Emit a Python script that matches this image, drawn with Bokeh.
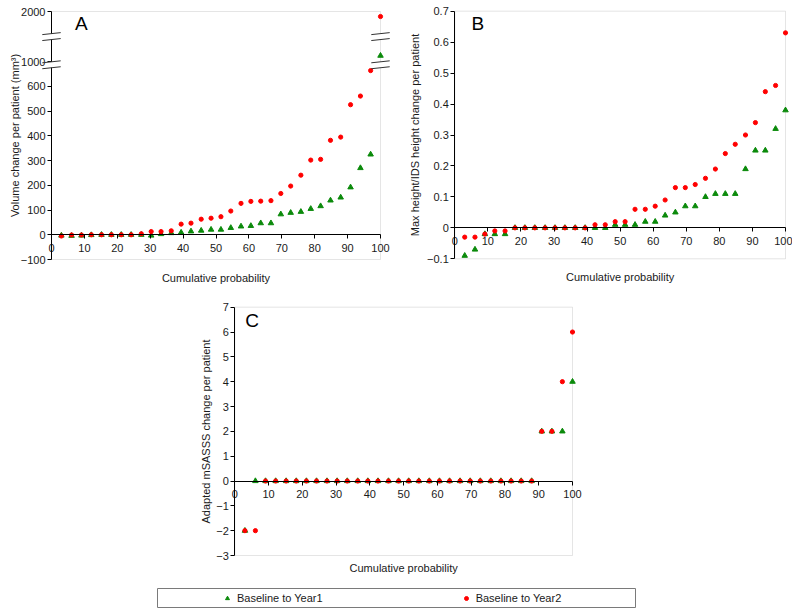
from bokeh.plotting import figure
from bokeh.models import (Range1d, FixedTicker, Label, Legend, LegendItem, Spacer,
                          BoxAnnotation, Arrow, CustomJSTickFormatter)
from bokeh.layouts import column, row
from bokeh.embed import file_html
from bokeh.resources import INLINE

# ---------------- data ----------------
PROB = [3.0, 6.1, 9.1, 12.1, 15.2, 18.2, 21.2, 24.2, 27.3, 30.3, 33.3, 36.4, 39.4,
        42.4, 45.5, 48.5, 51.5, 54.5, 57.6, 60.6, 63.6, 66.7, 69.7, 72.7, 75.8, 78.8,
        81.8, 84.8, 87.9, 90.9, 93.9, 97.0, 100.0]
SERIES = ["Baseline to Year1", "Baseline to Year2"]

VOL_Y1 = [-3, -4, -3, -1, 0, 0, 0, 0, 0, -3, 3, 7, 9, 14, 17, 21, 21, 28, 34, 36, 47,
          47, 83, 89, 93, 105, 116, 139, 151, 192, 270, 325, 1120]
VOL_Y2 = [-5, -1, -1, 0, 0, 0, 0, 0, 4, 13, 13, 16, 43, 47, 63, 67, 73, 96, 127, 135,
          136, 138, 167, 197, 241, 302, 305, 382, 395, 526, 561, 664, 1900]

HGT_Y1 = [-0.09, -0.07, -0.02, -0.02, -0.02, 0, 0, 0, 0, 0, 0, 0, 0, 0, 0, 0.01, 0.01,
          0.01, 0.02, 0.02, 0.04, 0.05, 0.07, 0.07, 0.10, 0.11, 0.11, 0.11, 0.19, 0.25,
          0.25, 0.32, 0.38]
HGT_Y2 = [-0.03, -0.03, -0.02, -0.01, -0.01, 0, 0, 0, 0, 0, 0, 0, 0, 0.01, 0.01, 0.02,
          0.02, 0.06, 0.06, 0.07, 0.09, 0.13, 0.13, 0.14, 0.16, 0.19, 0.24, 0.27, 0.30,
          0.34, 0.44, 0.46, 0.63]

MS_Y1 = [-2, 0, 0, 0, 0, 0, 0, 0, 0, 0, 0, 0, 0, 0, 0, 0, 0, 0, 0, 0, 0, 0, 0, 0, 0,
         0, 0, 0, 0, 2, 2, 2, 4]
MS_Y2 = [-2, -2, 0, 0, 0, 0, 0, 0, 0, 0, 0, 0, 0, 0, 0, 0, 0, 0, 0, 0, 0, 0, 0, 0, 0,
         0, 0, 0, 0, 2, 2, 4, 6]

X_TICKS = [0, 10, 20, 30, 40, 50, 60, 70, 80, 90, 100]
VOL_TICKS = [-100, 0, 100, 200, 300, 400, 500, 600, 1000, 2000]
VOL_BREAKS = [800, 1500]   # values where the axis is broken
HGT_TICKS = [-0.1, 0.0, 0.1, 0.2, 0.3, 0.4, 0.5, 0.6, 0.7]
MS_TICKS = [-3, -2, -1, 0, 1, 2, 3, 4, 5, 6, 7]

GREEN = "#0b8a0b"
RED = "#ff0000"
FONT = "Liberation Sans"
TXT = "#1a1a1a"
BOX = "#a8a8a8"
NAN = float("nan")
TRI_SIZE = 5.5
DOT_SIZE = 4.2


def vol_scale(v):
    """Broken axis: linear to 680, compressed 680-1000, and 1000-2000."""
    if v <= 680:
        return v
    if v <= 1000:
        return 680 + (v - 680) * (20 / 320)
    return 700 + (v - 1000) * 0.203


def fmt_label(v):
    s = ("%g" % abs(v))
    return ("\u2212" + s) if v < 0 else s


def make_panel(fig_w, fig_h, box, ylo, yhi, ypos, ylabels, ytitle, lab_standoff,
               title_gap):
    """The whole figure is the frame; axes are fixed at x=0 / y=0 and bounded."""
    L, T, R, B = box
    ux = 100.0 / (R - L)
    uy = (yhi - ylo) / (B - T)
    p = figure(frame_width=fig_w, frame_height=fig_h,
               x_range=Range1d(-L * ux, 100 + (fig_w - R) * ux),
               y_range=Range1d(ylo - (fig_h - B) * uy, yhi + T * uy),
               output_backend="svg", toolbar_location=None, min_border=0)
    p.grid.visible = False
    p.outline_line_color = None
    p.background_fill_color = "white"
    p.border_fill_color = "white"

    p.add_layout(BoxAnnotation(left=0, right=100, bottom=ylo, top=yhi, fill_alpha=0,
                               line_color=BOX, line_width=1, level="underlay"))

    xa = p.xaxis[0]
    xa.fixed_location = 0
    xa.bounds = (0, 100)
    xa.ticker = FixedTicker(ticks=X_TICKS)
    xa.major_tick_in = 0
    xa.major_tick_out = 4
    xa.minor_tick_line_color = None
    xa.axis_line_color = "black"
    xa.major_tick_line_color = "black"
    xa.major_label_standoff = 5
    xa.major_label_text_font = FONT
    xa.major_label_text_font_size = "11px"
    xa.major_label_text_color = TXT

    ya = p.yaxis[0]
    ya.fixed_location = 0
    ya.bounds = (ylo, yhi)
    ya.ticker = FixedTicker(ticks=ypos)
    ya.formatter = CustomJSTickFormatter(args=dict(pos=ypos, lab=ylabels), code="""
        let best = 0, d = Infinity;
        for (let i = 0; i < pos.length; i++) {
            const e = Math.abs(pos[i] - tick);
            if (e < d) { d = e; best = i; }
        }
        return lab[best];
    """)
    ya.major_tick_in = 0
    ya.major_tick_out = 4
    ya.minor_tick_line_color = None
    ya.axis_line_color = "black"
    ya.major_tick_line_color = "black"
    ya.major_label_standoff = 2
    ya.major_label_text_font = FONT
    ya.major_label_text_font_size = "11px"
    ya.major_label_text_color = TXT
    ya.axis_label = ytitle
    ya.axis_label_standoff = lab_standoff
    ya.axis_label_text_font = FONT
    ya.axis_label_text_font_size = "11px"
    ya.axis_label_text_font_style = "normal"
    ya.axis_label_text_color = TXT

    p.add_layout(Label(x=50, y=ylo - title_gap * uy, text="Cumulative probability",
                       text_align="center", text_baseline="middle", text_font=FONT,
                       text_font_size="11px", text_color=TXT))
    return p


def add_points(p, y1, y2):
    p.scatter(PROB, y1, marker="triangle", size=TRI_SIZE, fill_color=GREEN,
              line_color=GREEN)
    p.scatter(PROB, y2, marker="circle", size=DOT_SIZE, fill_color=RED, line_color=RED)


def add_letter(p, x, y, text):
    p.add_layout(Label(x=x, y=y, text=text, text_font=FONT, text_font_size="19px",
                       text_align="center", text_baseline="middle", text_color="black"))


# ---------------- panel A ----------------
vol_pos = [vol_scale(v) for v in VOL_TICKS]
vol_lab = [fmt_label(v) for v in VOL_TICKS]
pA = make_panel(410, 287, (51, 11, 380, 259), vol_scale(-100), vol_scale(2000),
                vol_pos, vol_lab, "Volume change per patient (mm\u00b3)", -3, 18)
add_points(pA, [vol_scale(v) for v in VOL_Y1], [vol_scale(v) for v in VOL_Y2])
add_letter(pA, 9.1, 855, "A")
for bv in VOL_BREAKS:
    tb = vol_scale(bv)
    for xc in (0, 100):
        pA.add_layout(BoxAnnotation(left=xc - 1.6, right=xc + 1.6, bottom=tb - 11,
                                    top=tb + 11, fill_color="white", fill_alpha=1,
                                    line_alpha=0))
        for off in (-12, 12):
            pA.add_layout(Arrow(end=None, x_start=xc - 2.8, y_start=tb + off - 4,
                                x_end=xc + 2.8, y_end=tb + off + 4,
                                line_color="#333333", line_width=1))

# ---------------- panel B ----------------
hgt_lab = [fmt_label(v) for v in HGT_TICKS]
pB = make_panel(382, 287, (44.3, 10.7, 375, 258.3), -0.1, 0.7, HGT_TICKS, hgt_lab,
                "Max height/IDS height change per patient", 3, 18.5)
add_points(pB, HGT_Y1, HGT_Y2)
add_letter(pB, 7.0, 0.659, "B")

# ---------------- panel C ----------------
ms_lab = [fmt_label(v) for v in MS_TICKS]
pC = make_panel(411, 300, (45.3, 19.7, 383, 268), -3, 7, MS_TICKS, ms_lab,
                "Adapted mSASSS change per patient", 1, 12)
add_points(pC, MS_Y1, MS_Y2)
add_letter(pC, 5.1, 6.45, "C")

# ---------------- legend ----------------
leg = figure(frame_width=478, frame_height=19, x_range=Range1d(0, 1), y_range=Range1d(0, 1),
             output_backend="svg", toolbar_location=None, x_axis_location=None,
             y_axis_location=None, min_border=1)
leg.grid.visible = False
leg.outline_line_color = "#7a7a7a"
r1 = leg.scatter(x=[NAN], y=[NAN], marker="triangle", size=TRI_SIZE, fill_color=GREEN,
                 line_color=GREEN)
r2 = leg.scatter(x=[NAN], y=[NAN], marker="circle", size=DOT_SIZE, fill_color=RED,
                 line_color=RED)
legend = Legend(items=[LegendItem(label=SERIES[0], renderers=[r1]),
                       LegendItem(label=SERIES[1], renderers=[r2])],
                orientation="horizontal", location=(65, 3), spacing=138, padding=0,
                margin=0, glyph_width=10, glyph_height=10, label_standoff=5,
                label_height=12, border_line_alpha=0, background_fill_alpha=0,
                label_text_font=FONT, label_text_font_size="11px",
                label_text_color=TXT)
leg.add_layout(legend)

layout = column(row(pA, pB),
                row(Spacer(width=189, height=10), pC),
                row(Spacer(width=156, height=10), leg))

open("out.html", "w").write(file_html(layout, INLINE))
